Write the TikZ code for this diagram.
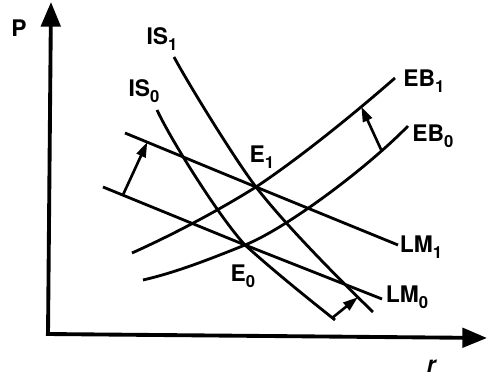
\documentclass[tikz,border=0pt]{standalone}
\usepackage{fontspec}
\setmainfont{TeX Gyre Heros}
\usetikzlibrary{arrows.meta}
\newcommand{\lsub}[1]{\raisebox{-0.45ex}{\fontsize{9.5}{10}\selectfont #1}}

\begin{document}
\begin{tikzpicture}[x=0.02cm, y=-0.02cm,
		font=\fontsize{13}{15}\selectfont\bfseries,
		lbl/.style={inner sep=0pt},
		ax/.style={line width=2.2pt, -{Triangle[length=14pt, width=11pt]}},
		crv/.style={line width=1.6pt},
		mv/.style={line width=1.5pt, -{Triangle[length=8.5pt, width=5.5pt]}}]
		\useasboundingbox (0,0) rectangle (488,378);

		\coordinate (O) at (48,335);
		\coordinate (ytop) at (51,2);
		\coordinate (xleft) at (46,334);
		\coordinate (xend) at (487,338);
		\draw[ax] (O) -- (ytop);
		\draw[ax] (xleft) -- (xend);
		\node[lbl] (plbl) at (19,28) {P};
		\node[lbl] (rlbl) at (432,366) {\textit{r}};

		\coordinate (E1) at (256,187);
		\coordinate (E0) at (245,245);

		\coordinate (is1a) at (174,57);
		\coordinate (is1b) at (373,312);
		\coordinate (is0a) at (157,110);
		\coordinate (is0b) at (335,320);
		\coordinate (eb1a) at (132,253);
		\coordinate (eb1b) at (395,78);
		\coordinate (eb0a) at (143,280);
		\coordinate (eb0b) at (408,126);
		\coordinate (lm1a) at (125,133);
		\coordinate (lm1b) at (398,245);
		\coordinate (lm0a) at (103,187);
		\coordinate (lm0b) at (382,299);

		\draw[crv] (is1a) .. controls (189,85) and (236,161) .. (E1)
			.. controls (286,226) and (343,283) .. coordinate[pos=0.85] (is1p) (is1b);
		\draw[crv] (is0a) .. controls (172,142) and (220,218) .. (E0)
			.. controls (275,272) and (305,296) .. coordinate[pos=0.97] (is0p) (is0b);
		\draw[crv] (eb1a) .. controls (172,235) and (216,212) .. (E1)
			.. controls (301,157) and (355,113) .. coordinate[pos=0.74] (eb1p) (eb1b);
		\draw[crv] (eb0a) .. controls (178,272) and (215,257) .. (E0)
			.. controls (285,229) and (365,170) .. coordinate[pos=0.82] (eb0p) (eb0b);
		\draw[crv] (lm1a) -- coordinate[pos=0.17] (lm1p) (E1) -- (lm1b);
		\draw[crv] (lm0a) -- coordinate[pos=0.14] (lm0p) (E0) -- (lm0b);

		\draw[mv] (lm0p) -- (lm1p);
		\draw[mv] (eb0p) -- (eb1p);
		\draw[mv] (is0p) -- (is1p);

		\node[lbl] (is1lbl) at (162,39) {IS\lsub{1}};
		\node[lbl] (is0lbl) at (144,91) {IS\lsub{0}};
		\node[lbl] (eb1lbl) at (424,81) {EB\lsub{1}};
		\node[lbl] (eb0lbl) at (433,136) {EB\lsub{0}};
		\node[lbl] (lm1lbl) at (421,247) {LM\lsub{1}};
		\node[lbl] (lm0lbl) at (407,297) {LM\lsub{0}};
		\node[lbl] (e1lbl) at (262,157) {E\lsub{1}};
		\node[lbl] (e0lbl) at (243,276) {E\lsub{0}};
	\end{tikzpicture}
\end{document}
